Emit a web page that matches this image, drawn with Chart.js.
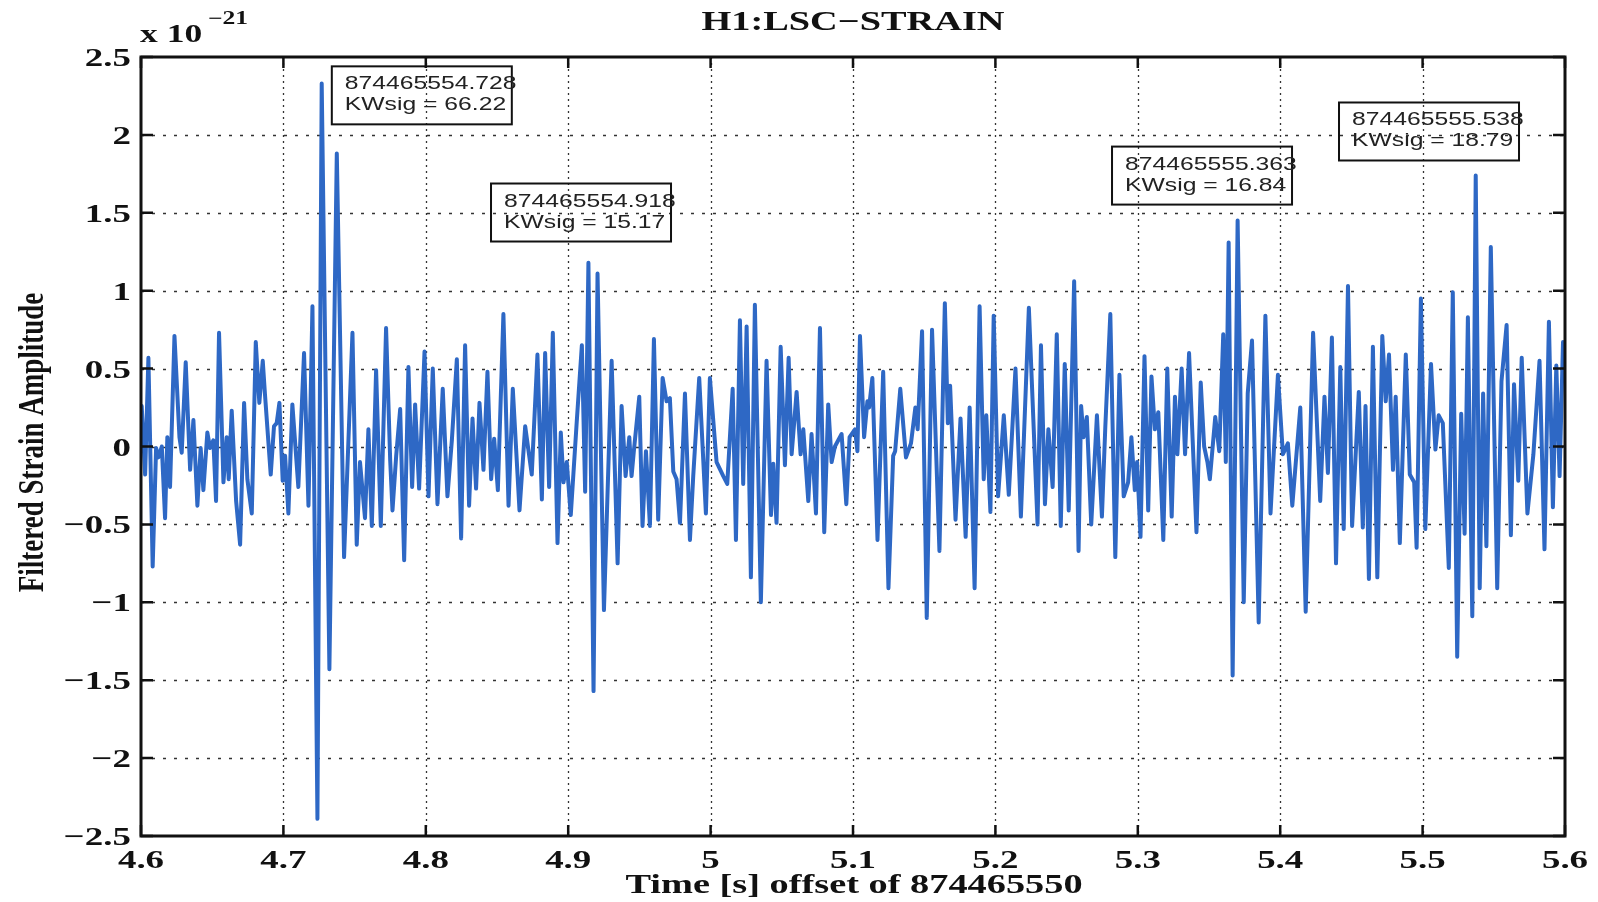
<!DOCTYPE html>
<html>
<head>
<meta charset="utf-8">
<title>H1:LSC-STRAIN</title>
<script src="https://cdn.jsdelivr.net/npm/chart.js@4.4.1/dist/chart.umd.min.js"></script>
<style>
  html, body { margin: 0; padding: 0; background: #fff; }
  canvas { display: block; }
</style>
</head>
<body>
<canvas id="strainChart" width="1598" height="902"></canvas>
<script>
// time [s] offset of 874465550 (peaks and troughs)
const timeSec = [
  4.6005,4.6029,4.6052,4.6082,4.6106,4.6122,4.6146,4.6169,4.6185,4.6204,4.6235,4.6270,4.6286,4.6314,4.6345,4.6368,4.6396,4.6419,4.6438,4.6466,4.6485,4.6508,4.6527,4.6548,4.6579,4.6602,4.6616,4.6637,4.6668,4.6696,4.6724,4.6747,4.6778,4.6806,4.6831,4.6855,4.6871,4.6911,4.6934,4.6953,4.6972,4.6995,4.7012,4.7035,4.7063,4.7105,4.7145,4.7176,4.7204,4.7239,4.7269,4.7323,4.7375,4.7426,4.7485,4.7515,4.7538,4.7573,4.7597,
  4.7621,4.7651,4.7684,4.7721,4.7750,4.7766,4.7792,4.7820,4.7848,4.7878,4.7904,4.7925,4.7953,4.7991,4.8019,4.8049,4.8082,4.8119,4.8152,4.8183,4.8218,4.8248,4.8276,4.8304,4.8328,4.8353,4.8377,4.8405,4.8433,4.8459,4.8480,4.8506,4.8545,4.8581,4.8611,4.8658,4.8698,4.8744,4.8784,4.8815,4.8838,4.8866,4.8892,4.8925,4.8948,4.8967,4.8990,4.9018,4.9060,4.9096,4.9119,4.9142,4.9178,4.9206,
  4.9251,4.9305,4.9347,4.9375,4.9403,4.9429,4.9445,4.9462,4.9499,4.9522,4.9546,4.9574,4.9602,4.9632,4.9663,4.9691,4.9714,4.9738,4.9761,4.9785,4.9820,4.9855,4.9878,4.9920,4.9967,4.9995,5.0042,5.0089,5.0117,5.0155,5.0178,5.0206,5.0229,5.0253,5.0283,5.0311,5.0353,5.0393,5.0424,5.0440,5.0463,5.0492,5.0522,5.0548,5.0569,5.0604,5.0632,5.0651,5.0686,5.0709,5.0740,5.0768,5.0798,5.0826,5.0850,5.0873,
  5.0920,5.0953,5.0976,5.1014,5.1031,5.1049,5.1078,5.1101,5.1113,5.1136,5.1172,5.1212,5.1249,5.1282,5.1296,5.1332,5.1372,5.1407,5.1438,5.1454,5.1485,5.1518,5.1555,5.1607,5.1645,5.1666,5.1682,5.1720,5.1755,5.1791,5.1819,5.1854,5.1889,5.1918,5.1936,5.1965,5.1988,5.2019,5.2059,5.2094,5.2141,5.2179,5.2235,5.2296,5.2320,5.2348,5.2372,5.2402,5.2431,5.2459,5.2487,5.2515,5.2553,5.2584,
  5.2602,5.2619,5.2642,5.2673,5.2713,5.2748,5.2772,5.2807,5.2842,5.2871,5.2901,5.2932,5.2955,5.2979,5.2995,5.3019,5.3047,5.3073,5.3096,5.3120,5.3144,5.3179,5.3207,5.3238,5.3261,5.3278,5.3308,5.3332,5.3360,5.3412,5.3442,5.3466,5.3489,5.3506,5.3544,5.3572,5.3600,5.3618,5.3638,5.3666,5.3701,5.3744,5.3772,5.3802,5.3849,5.3896,5.3932,5.3984,5.4019,5.4054,5.4085,5.4108,5.4141,5.4179,5.4231,
  5.4281,5.4311,5.4335,5.4363,5.4392,5.4422,5.4446,5.4476,5.4505,5.4552,5.4580,5.4599,5.4623,5.4651,5.4682,5.4717,5.4741,5.4764,5.4792,5.4811,5.4840,5.4882,5.4910,5.4941,5.4958,5.4988,5.5019,5.5059,5.5090,5.5113,5.5142,5.5184,5.5212,5.5243,5.5271,5.5295,5.5318,5.5349,5.5373,5.5401,5.5425,5.5448,5.5479,5.5524,5.5554,5.5590,5.5620,5.5642,5.5672,5.5696,5.5736,5.5778,5.5821,5.5856,5.5887,5.5915,5.5939,5.5962,5.5986
];

// filtered strain, units of 1e-21
const strainE21 = [
  0.26,-0.18,0.57,-0.77,-0.01,-0.07,0.00,-0.46,0.06,-0.26,0.71,0.06,-0.04,0.54,-0.15,0.17,-0.38,-0.01,-0.28,0.09,-0.01,0.04,-0.35,0.73,-0.23,0.06,-0.21,0.23,-0.35,-0.63,0.28,-0.21,-0.43,0.67,0.28,0.55,0.33,-0.18,0.13,0.15,0.28,-0.22,-0.06,-0.43,0.27,-0.26,0.60,-0.38,0.90,-2.39,2.33,-1.43,1.88,-0.71,0.73,-0.63,-0.10,-0.46,0.11,
  -0.51,0.49,-0.51,0.76,-0.09,-0.41,-0.06,0.24,-0.73,0.51,-0.26,0.27,-0.27,0.61,-0.32,0.50,-0.37,0.37,-0.32,0.04,0.56,-0.59,0.65,-0.38,0.18,-0.27,0.28,-0.15,0.48,-0.21,0.05,-0.28,0.85,-0.38,0.37,-0.41,0.13,-0.18,0.59,-0.34,0.60,-0.26,0.73,-0.62,0.09,-0.23,-0.10,-0.44,0.16,0.65,-0.29,1.18,-1.57,1.11,
  -1.05,0.55,-0.75,0.26,-0.19,0.06,-0.19,-0.02,0.32,-0.51,-0.03,-0.51,0.69,-0.47,0.44,0.29,0.31,-0.16,-0.21,-0.49,0.34,-0.60,-0.19,0.44,-0.43,0.44,-0.10,-0.19,-0.24,0.37,-0.60,0.81,-0.24,0.77,-0.84,0.91,-1.00,0.55,-0.44,-0.11,-0.49,0.64,-0.12,0.57,-0.05,0.35,-0.05,0.11,-0.35,0.08,-0.43,0.76,-0.55,0.27,-0.10,0.00,
  0.08,-0.37,0.06,0.11,-0.03,0.71,0.06,0.29,0.25,0.44,-0.60,0.48,-0.91,-0.06,-0.03,0.37,-0.07,0.02,0.25,0.11,0.74,-1.10,0.75,-0.67,0.92,0.15,0.39,-0.47,0.18,-0.58,0.25,-0.91,0.90,-0.21,0.20,-0.42,0.84,-0.32,0.20,-0.31,0.50,-0.45,0.89,-0.50,0.65,-0.37,0.11,-0.26,0.72,-0.51,0.53,-0.41,1.06,-0.67,
  0.26,0.06,0.19,-0.50,0.20,-0.45,0.13,0.85,-0.71,0.46,-0.32,-0.23,0.06,-0.28,-0.10,-0.58,0.58,-0.41,0.45,0.11,0.22,-0.60,0.50,-0.45,0.32,-0.05,0.50,-0.05,0.60,-0.55,0.41,0.00,-0.10,-0.21,0.19,-0.03,0.72,-0.10,1.31,-1.47,1.45,-1.00,0.34,0.68,-1.13,0.84,-0.43,0.46,-0.05,0.02,-0.38,-0.12,0.25,-1.06,0.73,
  -0.35,0.32,-0.17,0.70,-0.75,0.51,-0.53,1.03,-0.51,0.35,-0.52,0.26,-0.85,0.64,-0.84,0.71,0.29,0.59,-0.15,0.32,-0.62,0.59,-0.18,-0.23,-0.65,0.95,-0.53,0.53,-0.02,0.20,0.15,-0.78,0.99,-1.35,0.21,-0.56,0.83,-1.09,1.74,-0.91,0.34,-0.64,1.28,-0.91,0.42,0.78,-0.57,0.40,-0.22,0.57,-0.43,-0.05,0.55,-0.66,0.80,-0.39,0.52,-0.19,0.67
];

const xTickValues = [4.6, 4.7, 4.8, 4.9, 5.0, 5.1, 5.2, 5.3, 5.4, 5.5, 5.6];
const xTickLabels = ['4.6', '4.7', '4.8', '4.9', '5', '5.1', '5.2', '5.3', '5.4', '5.5', '5.6'];
const yTickValues = [-2.5, -2, -1.5, -1, -0.5, 0, 0.5, 1, 1.5, 2, 2.5];
const yTickLabels = ['\u22122.5', '\u22122', '\u22121.5', '\u22121', '\u22120.5', '0', '0.5', '1', '1.5', '2', '2.5'];

// KleineWelle triggers shown in the text boxes
const triggerGps = ['874465554.728', '874465554.918', '874465555.363', '874465555.538'];
const triggerSig = ['66.22', '15.17', '16.84', '18.79'];

// where the boxes sit (top-left corner, in axis units)
const boxAnchors = [
  { t: 4.734, v: 2.44 },
  { t: 4.8458, v: 1.688 },
  { t: 5.2819, v: 1.925 },
  { t: 5.4413, v: 2.208 }
];

const SERIF = '"Liberation Serif", "Times New Roman", serif';
const SANS = '"Liberation Sans", Arial, sans-serif';
const STRETCH = 1.42; // the original figure is wider than tall in its lettering

function drawText(ctx, s, x, y, font, align, sx) {
  ctx.save();
  ctx.translate(x, y);
  ctx.scale(sx, 1);
  ctx.font = font;
  ctx.textAlign = align;
  ctx.textBaseline = 'alphabetic';
  ctx.fillText(s, 0, 0);
  ctx.restore();
}

const matlabAxes = {
  id: 'matlabAxes',
  beforeDraw(chart) {
    const ctx = chart.ctx;
    ctx.save();
    ctx.fillStyle = '#ffffff';
    ctx.fillRect(0, 0, chart.width, chart.height);
    ctx.restore();
  },
  beforeDatasetsDraw(chart) {
    const { ctx, chartArea: a, scales } = chart;
    ctx.save();
    ctx.strokeStyle = '#333';
    ctx.lineWidth = 1.3;
    ctx.setLineDash([2, 4]);
    xTickValues.forEach(v => {
      const x = Math.round(scales.x.getPixelForValue(v)) + 0.5;
      if (x <= a.left + 2 || x >= a.right - 2) return;
      ctx.beginPath(); ctx.moveTo(x, a.top); ctx.lineTo(x, a.bottom); ctx.stroke();
    });
    ctx.setLineDash([3, 8]);
    yTickValues.forEach(v => {
      const y = Math.round(scales.y.getPixelForValue(v)) + 0.5;
      if (y <= a.top + 2 || y >= a.bottom - 2) return;
      ctx.beginPath(); ctx.moveTo(a.left, y); ctx.lineTo(a.right, y); ctx.stroke();
    });
    ctx.restore();
  },
  afterDatasetsDraw(chart) {
    const { ctx, chartArea: a, scales } = chart;
    ctx.save();
    ctx.fillStyle = '#111';
    ctx.strokeStyle = '#111';

    // box round the axes
    ctx.lineWidth = 3;
    ctx.strokeRect(a.left, a.top, a.right - a.left, a.bottom - a.top);

    // inward ticks on all four sides
    ctx.lineWidth = 2.5;
    xTickValues.forEach(v => {
      const x = scales.x.getPixelForValue(v);
      ctx.beginPath();
      ctx.moveTo(x, a.bottom); ctx.lineTo(x, a.bottom - 11);
      ctx.moveTo(x, a.top); ctx.lineTo(x, a.top + 11);
      ctx.stroke();
    });
    yTickValues.forEach(v => {
      const y = scales.y.getPixelForValue(v);
      ctx.beginPath();
      ctx.moveTo(a.left, y); ctx.lineTo(a.left + 12, y);
      ctx.moveTo(a.right, y); ctx.lineTo(a.right - 12, y);
      ctx.stroke();
    });

    // tick labels
    const tickFont = 'bold 26px ' + SERIF;
    xTickValues.forEach((v, i) => {
      drawText(ctx, xTickLabels[i], scales.x.getPixelForValue(v), a.bottom + 32, tickFont, 'center', STRETCH);
    });
    yTickValues.forEach((v, i) => {
      drawText(ctx, yTickLabels[i], a.left - 10, scales.y.getPixelForValue(v) + 9, tickFont, 'right', STRETCH);
    });

    // exponent
    drawText(ctx, 'x 10', a.left - 1, a.top - 15, 'bold 25px ' + SERIF, 'left', STRETCH);
    drawText(ctx, '\u221221', a.left + 67, a.top - 33, 'bold 18px ' + SERIF, 'left', STRETCH);

    // title and axis labels
    const mid = (a.left + a.right) / 2;
    drawText(ctx, 'H1:LSC\u2212STRAIN', mid, 30, 'bold 27px ' + SERIF, 'center', STRETCH);
    drawText(ctx, 'Time [s] offset of 874465550', mid + 1, 893, 'bold 27px ' + SERIF, 'center', STRETCH);

    ctx.save();
    ctx.translate(34, (a.top + a.bottom) / 2 - 4);
    ctx.rotate(-Math.PI / 2);
    ctx.scale(1, 1.3);
    ctx.font = 'bold 27px ' + SERIF;
    ctx.textAlign = 'center';
    ctx.textBaseline = 'middle';
    ctx.fillText('Filtered Strain Amplitude', 0, 0);
    ctx.restore();

    // trigger boxes
    ctx.lineWidth = 2;
    boxAnchors.forEach((b, i) => {
      const x = scales.x.getPixelForValue(b.t);
      const y = scales.y.getPixelForValue(b.v);
      ctx.strokeRect(x, y, 180, 58);
      ctx.fillStyle = '#222';
      drawText(ctx, triggerGps[i], x + 13, y + 23, '19px ' + SANS, 'left', 1.3);
      drawText(ctx, 'KWsig = ' + triggerSig[i], x + 13, y + 44, '19px ' + SANS, 'left', 1.3);
    });
    ctx.restore();
  }
};

new Chart(document.getElementById('strainChart').getContext('2d'), {
  type: 'line',
  data: {
    datasets: [{
      label: 'H1:LSC-STRAIN',
      data: timeSec.map((t, i) => ({ x: t, y: strainE21[i] })),
      borderColor: '#2e68c5',
      borderWidth: 4,
      borderJoinStyle: 'round',
      borderCapStyle: 'round',
      pointRadius: 0,
      tension: 0,
      fill: false
    }]
  },
  options: {
    responsive: false,
    animation: false,
    devicePixelRatio: 1,
    layout: { padding: { top: 57, right: 33, left: 0, bottom: 0 } },
    plugins: {
      legend: { display: false },
      tooltip: { enabled: false },
      title: { display: false }
    },
    scales: {
      x: {
        type: 'linear',
        min: 4.6,
        max: 5.6,
        grid: { display: false },
        border: { display: false },
        ticks: { display: false },
        afterBuildTicks: s => { s.ticks = xTickValues.map(v => ({ value: v })); },
        afterFit: s => { s.height = 66; }
      },
      y: {
        type: 'linear',
        min: -2.5,
        max: 2.5,
        grid: { display: false },
        border: { display: false },
        ticks: { display: false },
        afterBuildTicks: s => { s.ticks = yTickValues.map(v => ({ value: v })); },
        afterFit: s => { s.width = 141; }
      }
    }
  },
  plugins: [matlabAxes]
});
</script>
</body>
</html>
